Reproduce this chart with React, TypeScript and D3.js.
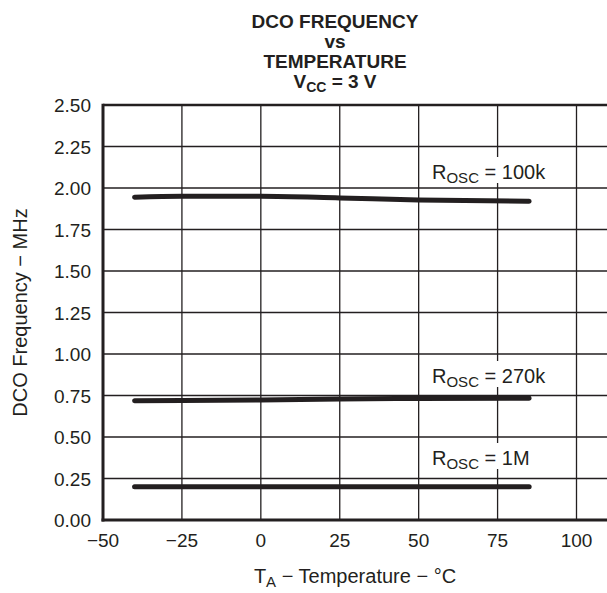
import React from "react";
import * as d3 from "d3";

const temps100k = [-40, -25, 0, 25, 50, 85];
const freq100k = [1.945, 1.95, 1.95, 1.94, 1.928, 1.92];
const temps270k = [-40, -25, 0, 25, 50, 85];
const freq270k = [0.719, 0.72, 0.723, 0.729, 0.732, 0.733];
const temps1M = [-40, 0, 50, 85];
const freq1M = [0.2, 0.2, 0.2, 0.2];
const xTicks = [-50, -25, 0, 25, 50, 75, 100];
const yTicks = [0, 0.25, 0.5, 0.75, 1.0, 1.25, 1.5, 1.75, 2.0, 2.25, 2.5];
const seriesLabels = ["100k", "270k", "1M"];

const W = 607;
const H = 593;
const FONT = "'Liberation Sans', Arial, Helvetica, sans-serif";
const INK = "#231f20";

export default function App() {
  const left = 103;
  const top = 105;
  const bottom = 520;
  const x = d3.scaleLinear().domain([-50, 100]).range([left, 576.5]);
  const y = d3.scaleLinear().domain([0, 2.5]).range([bottom, top]);
  const right = W;

  const line = d3
    .line<[number, number]>()
    .x((d) => x(d[0]))
    .y((d) => y(d[1]))
    .curve(d3.curveMonotoneX);

  const series = [
    { t: temps100k, f: freq100k, label: seriesLabels[0], lx: 432, ly: 179 },
    { t: temps270k, f: freq270k, label: seriesLabels[1], lx: 432, ly: 383 },
    { t: temps1M, f: freq1M, label: seriesLabels[2], lx: 432, ly: 465 },
  ];

  const tx = 335;

  return (
    <svg width={W} height={H} style={{ display: "block", position: "absolute", left: 0, top: 0, background: "#fff" }}>
      <rect x={0} y={0} width={W} height={H} fill="#fff" />
      {/* title */}
      <g fontFamily={FONT} fontWeight="bold" fontSize={19} fill={INK} textAnchor="middle">
        <text x={tx} y={28}>DCO FREQUENCY</text>
        <text x={tx} y={48}>vs</text>
        <text x={tx} y={68}>TEMPERATURE</text>
        <text x={tx} y={88}>
          V<tspan fontSize={14} dy={4}>CC</tspan>
          <tspan dy={-4}> = 3 V</tspan>
        </text>
      </g>
      {/* grid */}
      <g stroke={INK} strokeWidth={1.3}>
        {xTicks.filter((v) => v > -50).map((v) => (
          <line key={"gx" + v} x1={x(v)} x2={x(v)} y1={top} y2={bottom} />
        ))}
        {yTicks.filter((v) => v > 0 && v < 2.5).map((v) => (
          <line key={"gy" + v} x1={left} x2={right} y1={y(v)} y2={y(v)} />
        ))}
      </g>
      {/* curves */}
      {series.map((s, i) => (
        <path
          key={"s" + i}
          d={line(s.t.map((t, j) => [t, s.f[j]] as [number, number])) || ""}
          fill="none"
          stroke={INK}
          strokeWidth={5}
          strokeLinecap="round"
        />
      ))}
      {/* labels */}
      {series.map((s, i) => {
        const w = i === 2 ? 96 : 122;
        return (
          <g key={"l" + i}>
            <rect x={s.lx - 2} y={s.ly - 22} width={w} height={26} fill="#fff" />
            <text x={s.lx} y={s.ly} fontFamily={FONT} fontSize={20} fill={INK}>
              R<tspan fontSize={15} dy={4}>OSC</tspan>
              <tspan dy={-4}> = {s.label}</tspan>
            </text>
          </g>
        );
      })}
      {/* axes frame */}
      <g stroke={INK} fill="none">
        <line x1={left} x2={right} y1={top} y2={top} strokeWidth={2.5} />
        <line x1={left} x2={left} y1={top - 1.2} y2={bottom + 1.5} strokeWidth={3} />
        <line x1={left - 1.5} x2={right} y1={bottom} y2={bottom} strokeWidth={3} />
      </g>
      {/* tick labels */}
      <g fontFamily={FONT} fontSize={19} fill={INK}>
        {yTicks.map((v) => (
          <text key={"ty" + v} x={91} y={y(v) + 7} textAnchor="end">
            {v.toFixed(2)}
          </text>
        ))}
        {xTicks.map((v) => (
          <text key={"tx" + v} x={x(v)} y={547} textAnchor="middle">
            {v < 0 ? "\u2212" + Math.abs(v) : String(v)}
          </text>
        ))}
      </g>
      {/* axis titles */}
      <text x={355} y={583} textAnchor="middle" fontFamily={FONT} fontSize={20} fill={INK}>
        T<tspan fontSize={15} dy={4}>A</tspan>
        <tspan dy={-4}> {"\u2212"} Temperature {"\u2212"} °C</tspan>
      </text>
      <text
        transform={`translate(27, ${(top + bottom) / 2}) rotate(-90)`}
        textAnchor="middle"
        fontFamily={FONT}
        fontSize={20}
        fill={INK}
      >
        DCO Frequency {"\u2212"} MHz
      </text>
    </svg>
  );
}
